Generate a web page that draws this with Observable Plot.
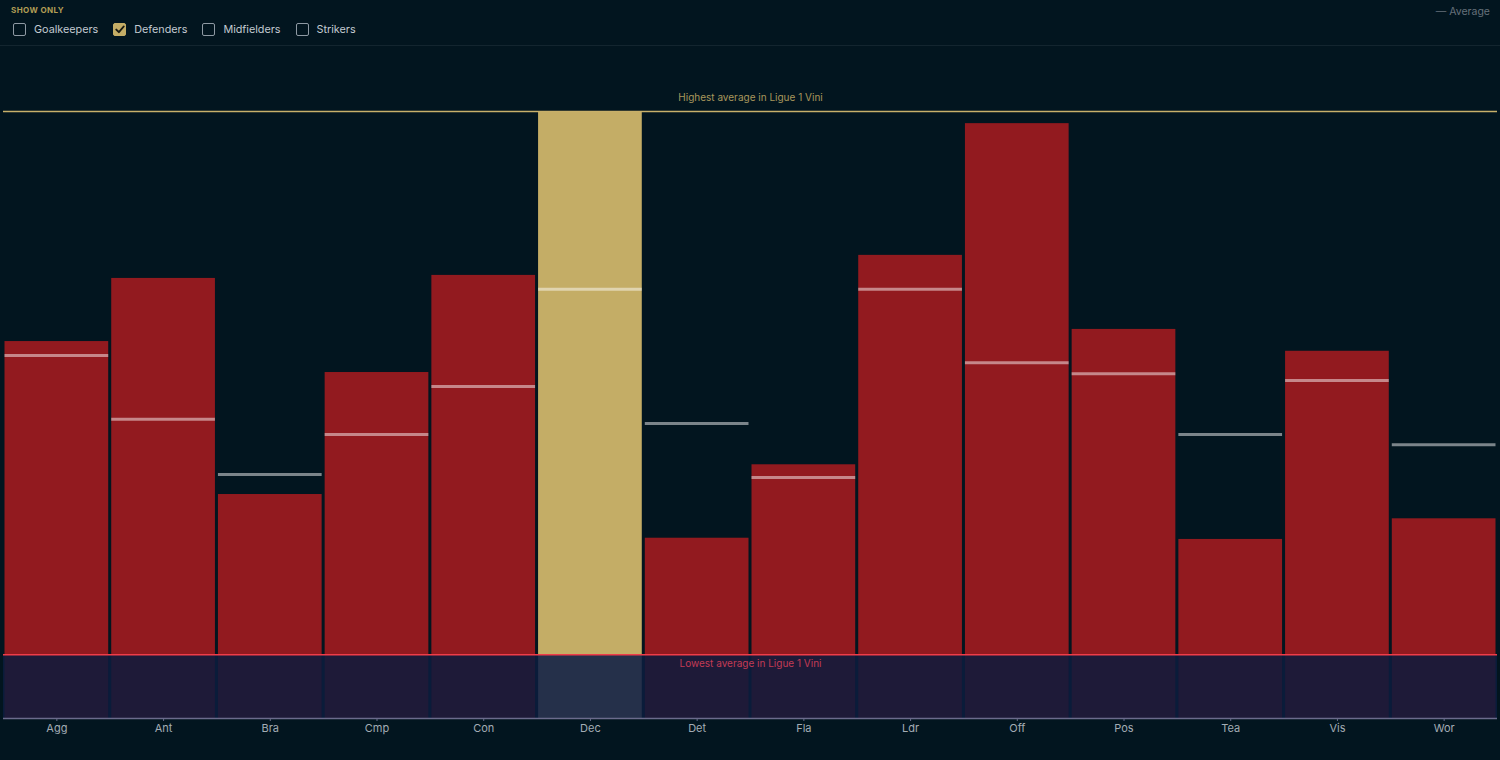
<!DOCTYPE html>
<html>
<head>
<meta charset="utf-8">
<script src="https://cdn.jsdelivr.net/npm/d3@7"></script>
<script src="https://cdn.jsdelivr.net/npm/@observablehq/plot@0.6"></script>
<style>
  html, body { margin: 0; padding: 0; background: #02151f; }
  body { width: 1500px; height: 760px; overflow: hidden; font-family: Inter, "Open Sans", sans-serif; }
  .header { position: relative; height: 45px; border-bottom: 1px solid #13252f; }
  .show-only { position: absolute; left: 11px; top: 5px; font-size: 8px; font-weight: 700; letter-spacing: 0.4px; color: #b39d55; }
  .filters { position: absolute; left: 13px; top: 23px; display: flex; align-items: center; font-size: 10.8px; color: #c3cad1; }
  .filter { display: flex; align-items: center; margin-right: 15px; }
  .box { width: 11px; height: 11px; border: 1.5px solid #8e99a3; border-radius: 2px; margin-right: 8px; display: flex; align-items: center; justify-content: center; }
  .box.checked { background: #c4ad66; border-color: #c4ad66; }
  .box.checked svg { display: block; }
  .legend { position: absolute; right: 10px; top: 5px; font-size: 10.5px; color: #66717b; }
  #chart svg { display: block; }
</style>
</head>
<body>
<div class="header">
  <div class="show-only">SHOW ONLY</div>
  <div class="filters" id="filters"></div>
  <div class="legend">— Average</div>
</div>
<div id="chart"></div>
<script>
// Position filters shown above the chart
const positions = ["Goalkeepers", "Defenders", "Midfielders", "Strikers"];
const selectedPosition = "Defenders";

// Player attributes and values
const attributes = ["Agg", "Ant", "Bra", "Cmp", "Con", "Dec", "Det", "Fla", "Ldr", "Off", "Pos", "Tea", "Vis", "Wor"];
const playerValues = [11.21, 12.25, 8.69, 10.70, 12.30, 15.00, 7.97, 9.18, 12.63, 14.80, 11.41, 7.95, 11.05, 8.29];
const positionAverages = [10.98, 9.93, 9.02, 9.68, 10.47, 12.07, 9.86, 8.97, 12.07, 10.86, 10.68, 9.68, 10.57, 9.51];

// League reference levels
const leagueHighest = 15.0;
const leagueLowest = 6.05;
const axisFloor = 5;
const highlighted = "Dec";
const highestLabel = "Highest average in Ligue 1 Vini";
const lowestLabel = "Lowest average in Ligue 1 Vini";

const filters = document.getElementById("filters");
for (const p of positions) {
  const item = document.createElement("div");
  item.className = "filter";
  const box = document.createElement("div");
  box.className = "box" + (p === selectedPosition ? " checked" : "");
  if (p === selectedPosition) {
    box.innerHTML = '<svg width="10" height="9" viewBox="0 0 10 9"><path d="M1.3 4.6 L3.9 7.2 L8.7 1.5" fill="none" stroke="#1a1a12" stroke-width="1.9" stroke-linecap="round" stroke-linejoin="round"/></svg>';
  }
  const label = document.createElement("span");
  label.textContent = p;
  item.append(box, label);
  filters.append(item);
}

const data = attributes.map((a, i) => ({attr: a, value: playerValues[i], avg: positionAverages[i]}));

const gap = 1.5;

const chart = Plot.plot({
  width: 1500,
  height: 714,
  marginTop: 65,
  marginBottom: 42,
  marginLeft: 3,
  marginRight: 3,
  style: {background: "transparent", fontFamily: "Inter, 'Open Sans', sans-serif", fontSize: "11px", color: "#a3acb4"},
  x: {domain: attributes, padding: 0, round: false, label: null},
  y: {domain: [axisFloor, leagueHighest], axis: null},
  marks: [
    // band under the lowest league level
    Plot.rect([0], {y1: axisFloor, y2: leagueLowest, fill: "#0a1c3a"}),
    Plot.barY(data, {x: "attr", y1: axisFloor, y2: leagueLowest, fill: d => d.attr === highlighted ? "#25304a" : "#1e1a38", insetLeft: gap, insetRight: gap}),
    // player bars from the lowest league level
    Plot.barY(data, {x: "attr", y1: leagueLowest, y2: "value", fill: d => d.attr === highlighted ? "#c4ad66" : "#921a1f", insetLeft: gap, insetRight: gap}),
    // position averages
    Plot.tickY(data, {x: "attr", y: "avg", stroke: "white", strokeOpacity: 0.48, strokeWidth: 3, insetLeft: gap, insetRight: gap}),
    // league extremes
    Plot.ruleY([leagueHighest], {stroke: "#c8b06a", strokeWidth: 1.5}),
    Plot.ruleY([leagueLowest], {stroke: "#f03c48", strokeWidth: 1.5}),
    Plot.text([highestLabel], {y: leagueHighest, text: d => d, dy: -14, fill: "#a8975c", fontSize: 10}),
    Plot.text([lowestLabel], {y: leagueLowest, text: d => d, dy: 9, fill: "#c23b55", fontSize: 10}),
    // x axis
    Plot.ruleY([axisFloor], {stroke: "#6b6b8c", strokeWidth: 1.5}),
    Plot.axisX({tickSize: 3, stroke: "#6b6b8c", fill: "#a3acb4", tickPadding: 3, label: null})
  ]
});
document.getElementById("chart").append(chart);
</script>
</body>
</html>
